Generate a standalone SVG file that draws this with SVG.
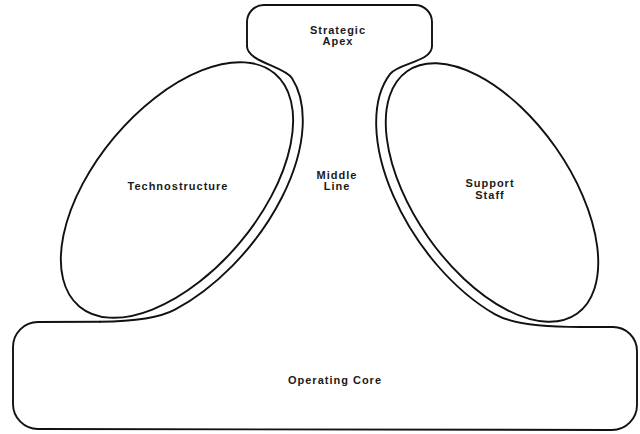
<svg xmlns="http://www.w3.org/2000/svg" width="640" height="434" viewBox="0 0 640 434">
<style>
.o{fill:none;stroke:#111;stroke-width:1.9;stroke-linejoin:round;stroke-linecap:round}
.t{font-family:"Liberation Sans",Arial,sans-serif;font-weight:bold;font-size:11px;letter-spacing:1px;fill:#1a1a1a;text-anchor:middle}
</style>
<rect width="640" height="434" fill="#fff"/>
<g id="strategic-apex">
<path class="o" d="M247,46 L247,22 A17,17 0 0 1 264,5 L415,5 A17,17 0 0 1 432,22 L432,46"/>
<text class="t" x="338" y="34">Strategic</text>
<text class="t" x="338" y="45">Apex</text>
</g>
<g id="middle-line">
<path class="o" d="M247,46 C247,62 284.3,66.3 291.9,78.1 A162,92 -50 0 1 174.9,309.7 C157.3,319.2 130,321.5 100,321.8"/>
<path class="o" d="M432,46 C432,62 398.7,62.7 390.2,73.8 A158,88 55 0 0 495.1,314.4 C509,322.4 540,327 580,327"/>
<text class="t" x="337" y="179">Middle</text>
<text class="t" x="337" y="190">Line</text>
</g>
<g id="technostructure">
<ellipse class="o" cx="177" cy="190" rx="152" ry="82" transform="rotate(-50 177 190)"/>
<text class="t" x="178" y="190">Technostructure</text>
</g>
<g id="support-staff">
<ellipse class="o" cx="492" cy="192.5" rx="148" ry="78" transform="rotate(55 492 192.5)"/>
<text class="t" x="490" y="187">Support</text>
<text class="t" x="490" y="199">Staff</text>
</g>
<g id="operating-core">
<path class="o" d="M100,321.8 L38,322 A25,25 0 0 0 13,347 L13,404 A25,25 0 0 0 38,429 L612,430 A25,25 0 0 0 637,405 L637,351 A24,24 0 0 0 613,327 L580,327"/>
<text class="t" x="335" y="384">Operating Core</text>
</g>
<g id="connectors"/>
</svg>
